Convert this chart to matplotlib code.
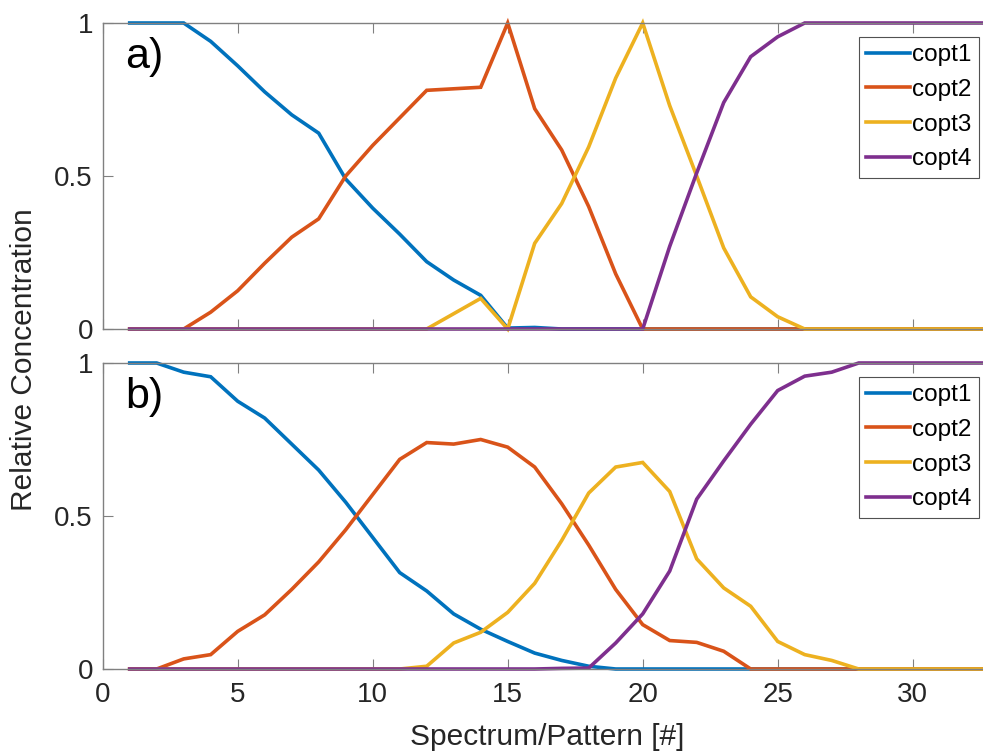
import numpy as np
import matplotlib
matplotlib.use('Agg')
import matplotlib.pyplot as plt

plt.rcParams['font.family'] = ['Liberation Sans', 'DejaVu Sans']

# spectrum / pattern index
n = np.arange(1, 34)

# panel a)
a_copt1 = [1, 1, 1, 0.94, 0.86, 0.775, 0.70, 0.64, 0.49, 0.395, 0.31, 0.22, 0.16, 0.11, 0.003, 0.005,
           0, 0, 0, 0, 0, 0, 0, 0, 0, 0, 0, 0, 0, 0, 0, 0, 0]
a_copt2 = [0, 0, 0, 0.055, 0.125, 0.215, 0.30, 0.36, 0.50, 0.60, 0.69, 0.78, 0.785, 0.79, 1.0, 0.72,
           0.585, 0.40, 0.18, 0, 0, 0, 0, 0, 0, 0, 0, 0, 0, 0, 0, 0, 0]
a_copt3 = [0, 0, 0, 0, 0, 0, 0, 0, 0, 0, 0, 0, 0.05, 0.10, 0, 0.28,
           0.41, 0.595, 0.82, 1.0, 0.73, 0.50, 0.265, 0.105, 0.04, 0, 0, 0, 0, 0, 0, 0, 0]
a_copt4 = [0, 0, 0, 0, 0, 0, 0, 0, 0, 0, 0, 0, 0, 0, 0, 0,
           0, 0, 0, 0, 0.27, 0.51, 0.74, 0.89, 0.955, 1, 1, 1, 1, 1, 1, 1, 1]

# panel b)
b_copt1 = [1, 1, 0.97, 0.955, 0.875, 0.82, 0.735, 0.65, 0.545, 0.43, 0.315, 0.255, 0.18, 0.13, 0.09, 0.052,
           0.028, 0.009, 0, 0, 0, 0, 0, 0, 0, 0, 0, 0, 0, 0, 0, 0, 0]
b_copt2 = [0, 0, 0.033, 0.047, 0.123, 0.177, 0.26, 0.35, 0.455, 0.57, 0.685, 0.74, 0.735, 0.75, 0.725, 0.66,
           0.54, 0.405, 0.26, 0.145, 0.093, 0.087, 0.058, 0, 0, 0, 0, 0, 0, 0, 0, 0, 0]
b_copt3 = [0, 0, 0, 0, 0, 0, 0, 0, 0, 0, 0, 0.009, 0.085, 0.12, 0.185, 0.28,
           0.42, 0.575, 0.66, 0.675, 0.58, 0.36, 0.265, 0.205, 0.09, 0.047, 0.028, 0, 0, 0, 0, 0, 0]
b_copt4 = [0, 0, 0, 0, 0, 0, 0, 0, 0, 0, 0, 0, 0, 0, 0, 0,
           0.002, 0.003, 0.085, 0.18, 0.32, 0.555, 0.68, 0.80, 0.91, 0.957, 0.97, 1, 1, 1, 1, 1, 1]

names = ['copt1', 'copt2', 'copt3', 'copt4']
colors = ['#0072BD', '#D95319', '#EDB120', '#7E2F8E']
txt = '#262626'

fig = plt.figure(figsize=(9.83, 7.51), dpi=100)
W, H = 983., 751.
left = 102.7 / W
width = 891. / W
ax_a = fig.add_axes([left, (H - 329) / H, width, 306. / H])
ax_b = fig.add_axes([left, (H - 669) / H, width, 306. / H])

panels = [(ax_a, [a_copt1, a_copt2, a_copt3, a_copt4], 'a)'),
          (ax_b, [b_copt1, b_copt2, b_copt3, b_copt4], 'b)')]

for ax, series, tag in panels:
    for ys, nm, c in zip(series, names, colors):
        ax.plot(n, ys, color=c, lw=2.6, label=nm, clip_on=False, solid_joinstyle='miter')
    ax.set_xlim(0, 33)
    ax.set_ylim(0, 1)
    ax.set_xticks([0, 5, 10, 15, 20, 25, 30])
    ax.set_yticks([0, 0.5, 1])
    ax.set_yticklabels(['0', '0.5', '1'])
    ax.tick_params(direction='in', length=7.5, width=0.8, color='#808080', labelsize=20,
                   labelcolor=txt, top=True, right=True)
    ax.tick_params(axis='y', pad=7)
    ax.tick_params(axis='x', pad=9)
    for sp in ax.spines.values():
        sp.set_color('#808080')
        sp.set_linewidth(1.0)
    ax.text(0.025, 0.955, tag, transform=ax.transAxes, fontsize=31, color='k', va='top', ha='left')
    leg = ax.legend(loc='upper left', bbox_to_anchor=((859 - 102.7) / 891., 1 - 14. / 306.),
                    fontsize=17.5, frameon=True, fancybox=False, handlelength=1.8,
                    handletextpad=0.1, borderpad=0.3, labelspacing=0.52, borderaxespad=0)
    leg.get_frame().set_edgecolor('#262626')
    leg.get_frame().set_linewidth(0.8)
    for t in leg.get_texts():
        t.set_color('k')

ax_a.set_xticklabels([])
fig.text(547.5 / W, (H - 737) / H, 'Spectrum/Pattern [#]', ha='center', va='center', fontsize=21.5, color=txt)
fig.text(24 / W, (H - 360) / H, 'Relative Concentration', ha='center', va='center',
         rotation=90, fontsize=21.5, color=txt)

fig.savefig('out.png', dpi=100)
